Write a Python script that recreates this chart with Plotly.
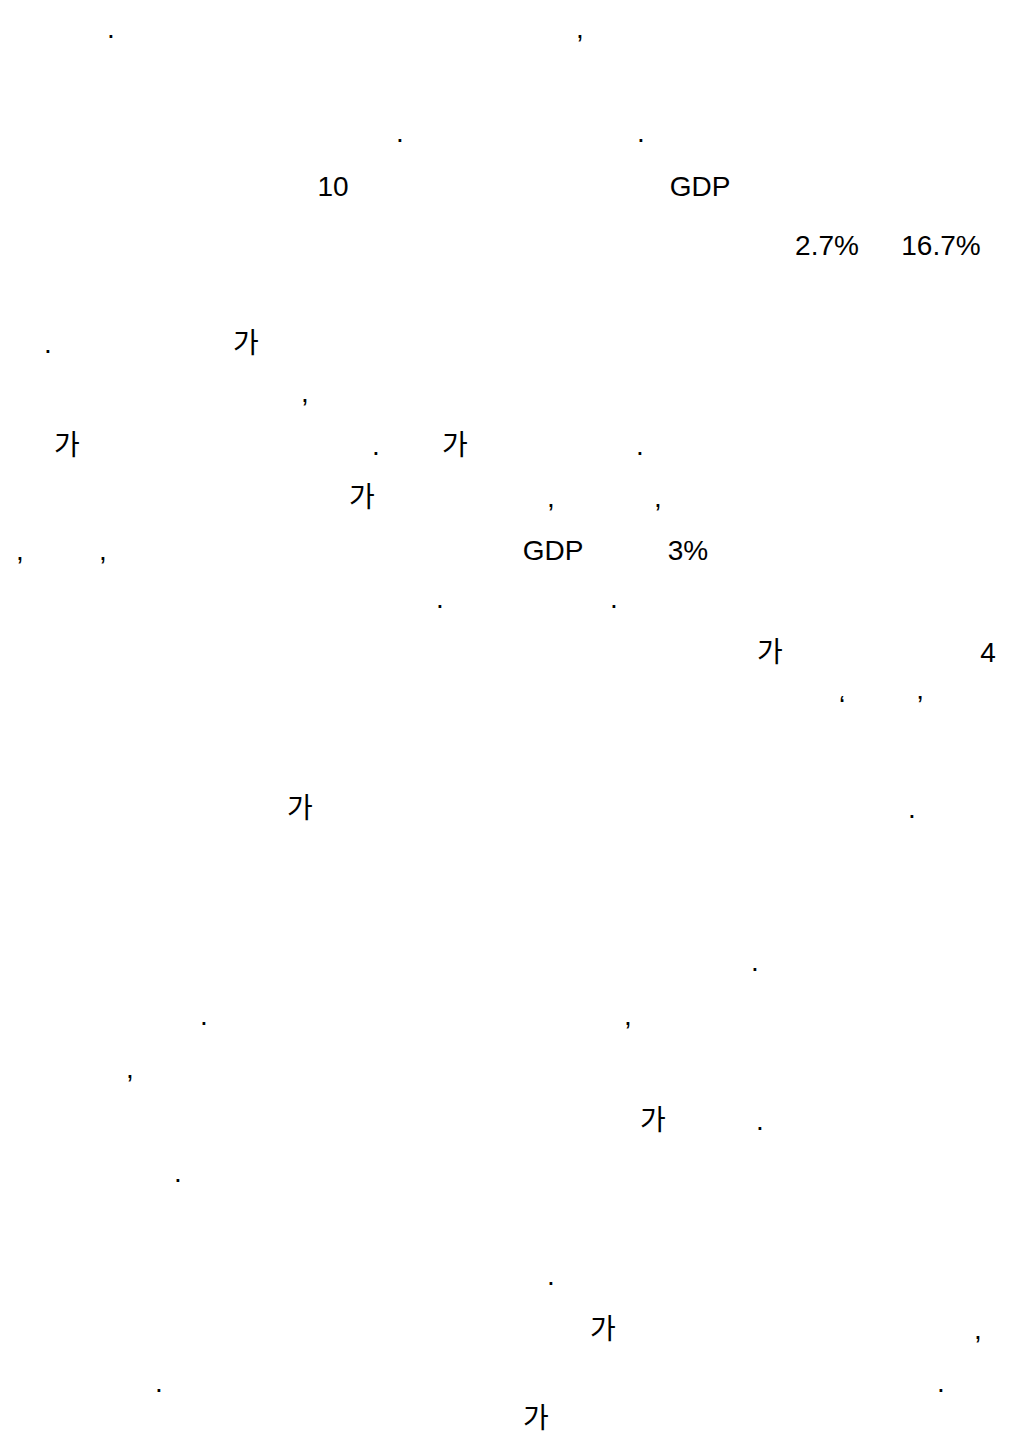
import plotly.graph_objects as go

W, H = 1034, 1436

# Visible glyph runs of the page, line by line (text, horizontal centre, baseline)
tokens = [
    ".", ",",
    ".", ".",
    "10", "GDP",
    "2.7%", "16.7%",
    ".", "가",
    ",",
    "가", ".", "가", ".",
    "가", ",", ",",
    ",", ",", "GDP", "3%",
    ".", ".",
    "가", "4",
    "‘", "’",
    "가", ".",
    ".",
    ".", ",",
    ",",
    "가", ".",
    ".",
    ".",
    "가", ",",
    ".", ".",
    "가",
]
token_x = [
    103, 572,
    392, 633,
    325, 692,
    819, 933,
    40, 238,
    297,
    59, 368, 447, 632,
    354, 543, 650,
    12, 95, 545, 680,
    432, 606,
    762, 980,
    834, 912,
    292, 904,
    747,
    196, 620,
    122,
    645, 752,
    170,
    543,
    595, 970,
    151, 933,
    528,
]
token_baseline = [
    30, 30,
    134, 134,
    188, 188,
    247, 247,
    345, 345,
    394,
    447, 447, 447, 447,
    499, 499, 499,
    552, 552, 552, 552,
    600, 600,
    654, 654,
    707, 707,
    810, 810,
    963,
    1017, 1017,
    1070,
    1122, 1122,
    1174,
    1277,
    1331, 1331,
    1384, 1384,
    1420,
]

FS = 28
# plotly places the baseline of "middle center" text 0.25*fontsize below the anchor
token_y = [b - 0.25 * FS for b in token_baseline]

fig = go.Figure(
    go.Scatter(
        x=token_x,
        y=token_y,
        text=tokens,
        mode="text",
        textposition="middle center",
        textfont=dict(family="Liberation Sans, Noto Sans CJK KR, sans-serif",
                      size=FS, color="#000000"),
        hoverinfo="skip",
        showlegend=False,
        cliponaxis=False,
    )
)

fig.update_layout(
    width=W,
    height=H,
    margin=dict(l=0, r=0, t=0, b=0),
    paper_bgcolor="#ffffff",
    plot_bgcolor="#ffffff",
    xaxis=dict(range=[0, W], visible=False, fixedrange=True),
    yaxis=dict(range=[H, 0], visible=False, fixedrange=True),
)

fig.write_html("out.html", config={"displayModeBar": False})
